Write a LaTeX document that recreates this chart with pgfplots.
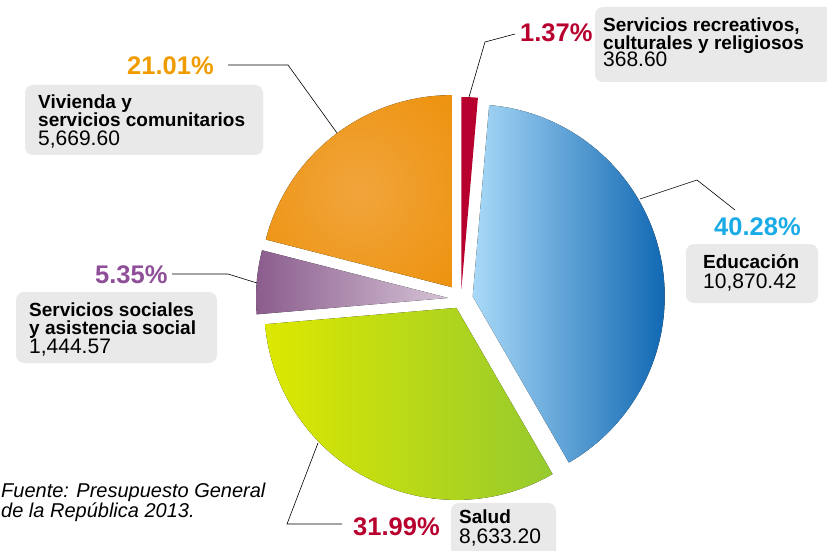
\documentclass[border=0pt]{standalone}
\usepackage{fontspec}
\setmainfont{Liberation Sans}
\usepackage{pgfplots}
\usepackage{pgfplotstable}
\pgfplotsset{compat=1.18}

\definecolor{redC}{HTML}{B8002F}
\definecolor{blueL}{HTML}{A9D9F7}
\definecolor{blueD}{HTML}{0A63B0}
\definecolor{greenL}{HTML}{DDE800}
\definecolor{greenM}{HTML}{C4DE00}
\definecolor{greenR}{HTML}{96CA2E}
\definecolor{purL}{HTML}{8A5C8C}
\definecolor{purR}{HTML}{D5C3D6}
\definecolor{orL}{HTML}{F1A53C}
\definecolor{orD}{HTML}{EC8C00}
\definecolor{boxgray}{HTML}{E9E9E9}
\definecolor{pctOr}{HTML}{F09C00}
\definecolor{pctPur}{HTML}{8E4F98}
\definecolor{pctCyan}{HTML}{1AAAE6}

\pgfdeclareradialshading{orangeglow}{\pgfpoint{0bp}{0bp}}{color(0bp)=(orL); color(46bp)=(orD); color(50bp)=(orD)}

% value (millions), percentage, explode offset
\pgfplotstableread{
value     pct    explode
368.60    1.37   10
10870.42  40.28  12
8633.20   31.99  10
1444.57   5.35   13
5669.60   21.01  15
}\budget

\newcommand\slice[4]{%
  \pgfmathsetmacro\midang{(#1+#2)/2}%
  \pgfmathsetmacro\apx{461+#3*cos(\midang)}%
  \pgfmathsetmacro\apy{251+#3*sin(\midang)}%
  \pgfmathsetmacro\stx{\apx+192*cos(#1)}%
  \pgfmathsetmacro\sty{\apy+192*sin(#1)}%
  \edef\temp{\noexpand\fill[#4] (axis cs:\apx,\apy) -- (axis cs:\stx,\sty) arc[start angle=#1, end angle=#2, radius=192pt] -- cycle;}%
  \temp}

\begin{document}
\begin{tikzpicture}[
  lbl/.style={anchor=base west, inner sep=0pt, font=\fontsize{19}{22}\selectfont\bfseries},
  num/.style={anchor=base west, inner sep=0pt, font=\fontsize{21}{24}\selectfont},
  pcts/.style={anchor=base west, inner sep=0pt, font=\fontsize{25.5}{28}\selectfont\bfseries},
  lead/.style={draw=black, line width=0.6pt},
]
\pgfplotstablegetelem{0}{pct}\of\budget \edef\pA{\pgfplotsretval}
\pgfplotstablegetelem{1}{pct}\of\budget \edef\pB{\pgfplotsretval}
\pgfplotstablegetelem{2}{pct}\of\budget \edef\pC{\pgfplotsretval}
\pgfplotstablegetelem{3}{pct}\of\budget \edef\pD{\pgfplotsretval}
\pgfplotstablegetelem{4}{pct}\of\budget \edef\pE{\pgfplotsretval}
\pgfplotstablegetelem{0}{explode}\of\budget \edef\eA{\pgfplotsretval}
\pgfplotstablegetelem{1}{explode}\of\budget \edef\eB{\pgfplotsretval}
\pgfplotstablegetelem{2}{explode}\of\budget \edef\eC{\pgfplotsretval}
\pgfplotstablegetelem{3}{explode}\of\budget \edef\eD{\pgfplotsretval}
\pgfplotstablegetelem{4}{explode}\of\budget \edef\eE{\pgfplotsretval}
\pgfmathsetmacro\sA{90}
\pgfmathsetmacro\sB{\sA-3.6*\pA}
\pgfmathsetmacro\sC{\sB-3.6*\pB}
\pgfmathsetmacro\sD{\sC-3.6*\pC}
\pgfmathsetmacro\sE{\sD-3.6*\pD}
\pgfmathsetmacro\sF{\sE-3.6*\pE}
\begin{axis}[
  x=1pt, y=1pt, xmin=0, xmax=827, ymin=0, ymax=550,
  hide axis, clip=false,
]
% slices
\slice{\sA}{\sB}{\eA}{redC}
\slice{\sB}{\sC}{\eB}{left color=blueL, right color=blueD}
\slice{\sC}{\sD}{\eC}{left color=greenL, middle color=greenM, right color=greenR}
\slice{\sD}{\sE}{\eD}{left color=purL, right color=purR}
\slice{\sE}{\sF}{\eE}{shading=orangeglow}

% grey boxes
\fill[boxgray, rounded corners=8pt] (axis cs:595,543) rectangle (axis cs:845,468);
\fill[boxgray, rounded corners=8pt] (axis cs:686,306) rectangle (axis cs:818,247);
\fill[boxgray, rounded corners=8pt] (axis cs:25,465) rectangle (axis cs:263,395);
\fill[boxgray, rounded corners=8pt] (axis cs:16,258) rectangle (axis cs:217,187);
\fill[boxgray, rounded corners=8pt] (axis cs:451,47) rectangle (axis cs:556,-15);

% leader lines
\draw[lead] (axis cs:469,453) -- (axis cs:485,508) -- (axis cs:515,516);
\draw[lead] (axis cs:640,351) -- (axis cs:697,370) -- (axis cs:735,340);
\draw[lead] (axis cs:228,485) -- (axis cs:288,485) -- (axis cs:337,417);
\draw[lead] (axis cs:172,276) -- (axis cs:228,276) -- (axis cs:257,267);
\draw[lead] (axis cs:318,107) -- (axis cs:287,26) -- (axis cs:342,26);

% recreational
\node[pcts, text=redC] at (axis cs:520,508) {1.37\%};
\node[lbl] at (axis cs:603,518) {Servicios recreativos,};
\node[lbl] at (axis cs:603,500) {culturales y religiosos};
\node[num] at (axis cs:603,483) {368.60};
% education
\node[pcts, text=pctCyan] at (axis cs:714,315) {40.28\%};
\node[lbl] at (axis cs:703,282) {Educación};
\node[num] at (axis cs:703,262) {10,870.42};
% vivienda
\node[pcts, text=pctOr] at (axis cs:127,475) {21.01\%};
\node[lbl] at (axis cs:38,441) {Vivienda y};
\node[lbl] at (axis cs:38,423) {servicios comunitarios};
\node[num] at (axis cs:38,404) {5,669.60};
% social
\node[pcts, text=pctPur] at (axis cs:95,267) {5.35\%};
\node[lbl] at (axis cs:29,234) {Servicios sociales};
\node[lbl] at (axis cs:29,216) {y asistencia social};
\node[num] at (axis cs:29,197) {1,444.57};
% salud
\node[pcts, text=redC] at (axis cs:353,15) {31.99\%};
\node[lbl] at (axis cs:459,27) {Salud};
\node[num] at (axis cs:459,7) {8,633.20};
% source
\node[anchor=base west, inner sep=0pt, font=\fontsize{20}{22}\selectfont\itshape] at (axis cs:1,53) {Fuente: Presupuesto General};
\node[anchor=base west, inner sep=0pt, font=\fontsize{20}{22}\selectfont\itshape] at (axis cs:1,33) {de la República 2013.};
\end{axis}
\pgfresetboundingbox
\path (current axis.south west) rectangle (current axis.north east);
\end{tikzpicture}
\end{document}
